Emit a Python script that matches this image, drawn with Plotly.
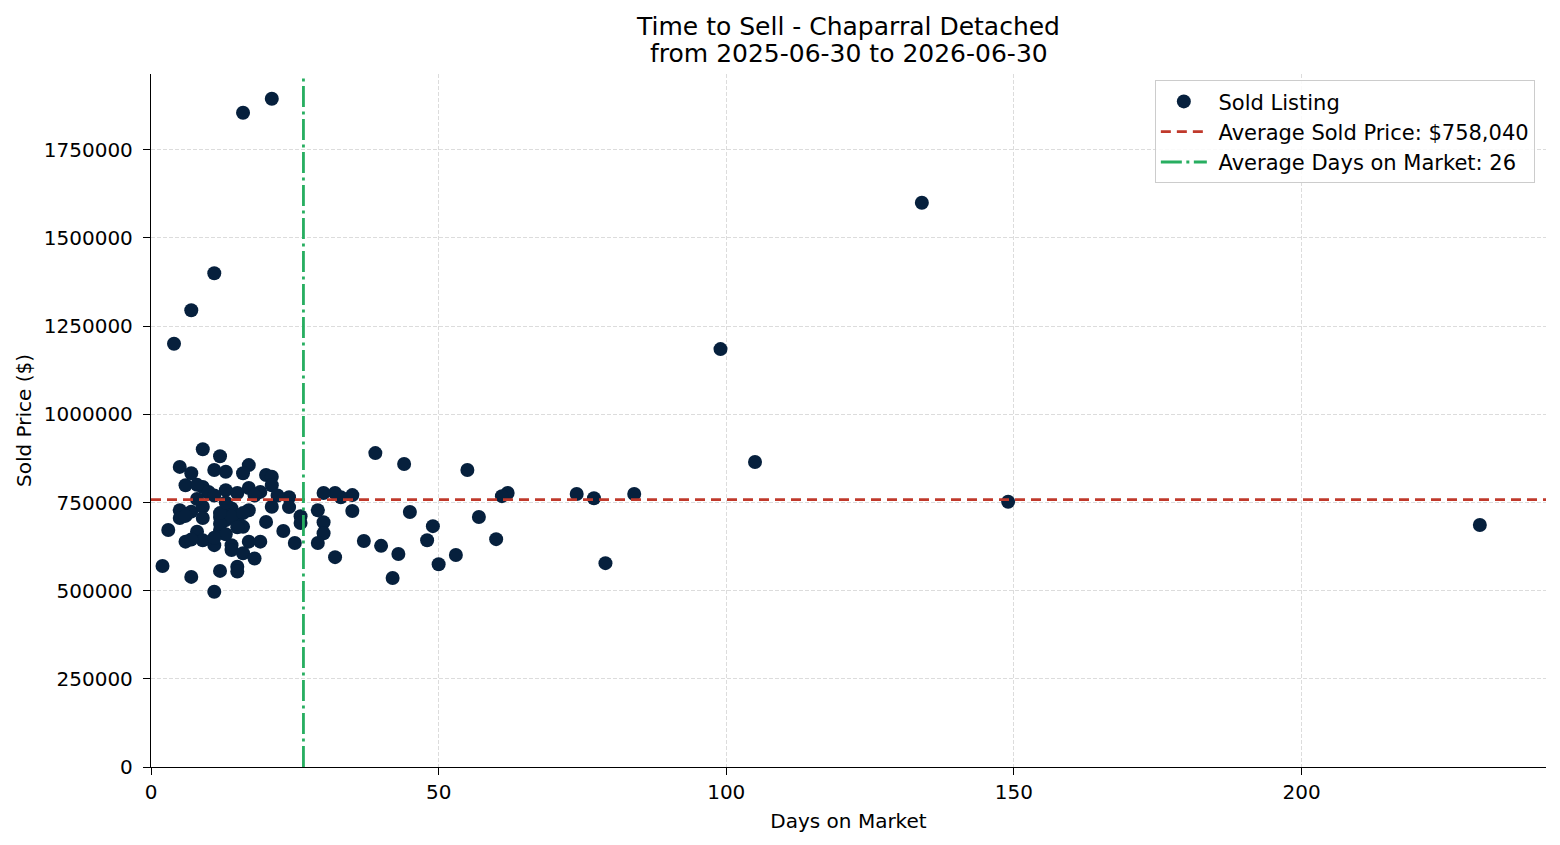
import plotly.graph_objects as go

# ---- data ----
days = [16, 21, 11, 7, 4, 134, 99, 105, 149, 231, 84, 79, 77, 74, 62, 61, 60, 57, 55, 53,
        50, 49, 48, 45, 44, 43, 42, 40, 39, 37, 35, 35, 33, 32, 32, 30, 30, 30, 29, 29,
        24, 24, 26, 26, 23, 25,
        9, 12, 5, 17, 11, 13, 7, 16, 20, 21, 6, 9, 13, 17, 21, 19, 10, 15, 21, 5,
        7, 9, 14, 17, 5, 9, 12, 15, 20, 3, 8, 12, 16, 6, 9, 11, 14, 17, 19, 14,
        16, 18, 15, 15, 12, 7, 2, 11,
        13, 12, 14, 13, 15, 11, 12, 16, 10, 8, 7, 6, 8, 18, 22, 13, 11]
prices = [1855000, 1895000, 1400000, 1295000, 1200000, 1600000, 1185000, 865000, 752000, 686000,
          774000, 578000, 762000, 774000, 777000, 768000, 646000, 709000, 842000, 601000,
          575000, 683000, 643000, 723000, 859000, 604000, 536000, 627000, 890000, 641000,
          771000, 726000, 765000, 777000, 595000, 777000, 694000, 663000, 728000, 635000,
          765000, 737000, 711000, 692000, 669000, 635000,
          901000, 881000, 851000, 856000, 842000, 837000, 833000, 833000, 828000, 823000,
          799000, 794000, 785000, 791000, 799000, 780000, 777000, 777000, 738000, 728000,
          724000, 738000, 733000, 728000, 706000, 706000, 709000, 700000, 695000, 672000,
          667000, 672000, 681000, 639000, 643000, 629000, 629000, 639000, 639000, 615000,
          606000, 591000, 568000, 554000, 556000, 539000, 570000, 497000,
          700000, 690000, 710000, 660000, 680000, 650000, 720000, 720000, 780000, 760000,
          645000, 712000, 800000, 770000, 770000, 750000, 770000]
avg_price = 758040
avg_days = 26.5          # position of the vertical line (label shows the rounded value)
avg_days_label = 26
x_range = [0, 242.5]
y_range = [0, 1965000]
x_ticks = [0, 50, 100, 150, 200]
y_ticks = [0, 250000, 500000, 750000, 1000000, 1250000, 1500000, 1750000]
title_line1 = "Time to Sell - Chaparral Detached"
title_line2 = "from 2025-06-30 to 2026-06-30"

FONT = "DejaVu Sans"
NB = "\u00a0"
fig = go.Figure()
fig.add_trace(go.Scatter(
    x=days, y=prices, mode="markers", name=NB + "Sold Listing",
    marker=dict(color="#06203d", size=14, line=dict(width=0)),
))
fig.add_trace(go.Scatter(
    x=x_range, y=[avg_price, avg_price], mode="lines",
    name=NB + f"Average Sold Price: ${avg_price:,}",
    line=dict(color="#c0392b", width=2.8, dash="10px,6px"),
))
fig.add_trace(go.Scatter(
    x=[avg_days, avg_days], y=y_range, mode="lines",
    name=NB + f"Average Days on Market: {avg_days_label}",
    line=dict(color="#27ae60", width=2.8, dash="21px,4.5px,3px,4.5px"),
))

axis_common = dict(
    showline=True, linecolor="black", linewidth=1.3, mirror=False,
    ticks="outside", ticklen=7, tickwidth=1.2, tickcolor="black",
    showgrid=True, gridcolor="#dcdcdc", gridwidth=0.8, griddash="4px,2px",
    zeroline=False, tickfont=dict(family=FONT, size=20, color="black"),
)
fig.update_xaxes(range=x_range, tickvals=x_ticks, **axis_common, ticklabelstandoff=0,
                 title=dict(text="Days on Market", font=dict(family=FONT, size=20, color="black"), standoff=10))
fig.update_yaxes(range=y_range, tickvals=y_ticks, tickformat="d", **axis_common, ticklabelstandoff=6,
                 title=dict(text="Sold Price ($)", font=dict(family=FONT, size=20, color="black"), standoff=6))

fig.update_layout(
    width=1560, height=845,
    margin=dict(l=151, r=14, t=74, b=78),
    paper_bgcolor="white", plot_bgcolor="white",
    font=dict(family=FONT, color="black"),
    title=dict(text=title_line1,
               x=0.5, xref="paper", xanchor="center", y=1 - 26 / 845, yref="container", yanchor="middle",
               font=dict(family=FONT, size=25, color="black")),
    annotations=[dict(text=title_line2, x=0.5, xref="paper", xanchor="center",
                      y=1 + 20 / 693, yref="paper", yanchor="middle", showarrow=False,
                      font=dict(family=FONT, size=25, color="black"))],
    legend=dict(x=0.992, y=0.991, xanchor="right", yanchor="top",
                bgcolor="rgba(255,255,255,0.85)", bordercolor="#cccccc", borderwidth=1,
                font=dict(family=FONT, size=21, color="black"), tracegroupgap=0,
                itemwidth=46),
    showlegend=True,
)
fig.write_html("out.html")
